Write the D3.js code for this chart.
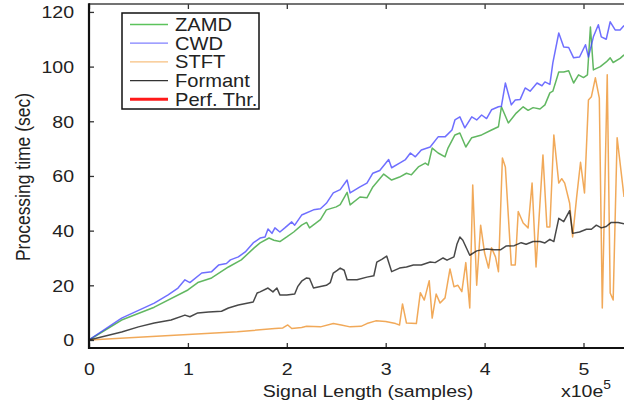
<!DOCTYPE html>
<html><head><meta charset="utf-8">
<script src="https://cdn.jsdelivr.net/npm/d3@7"></script>
<style>body{margin:0;background:#fff}svg{display:block}text{font-family:"Liberation Sans",Arial,sans-serif;fill:#222}</style>
</head><body><svg id="c" width="624" height="406"></svg>
<script>
// Data (x in units of 1e5 samples, y in seconds)
const xTicks = [0,1,2,3,4,5];
const yTicks = [0,20,40,60,80,100,120];
const seriesNames = ["ZAMD","CWD","STFT","Formant","Perf. Thr."];
const zamd = [[0,0],[0.33,7.3],[0.66,12],[1.0,18.3],[1.10,21],[1.24,22.7],[1.41,26.7],[1.54,29.3],[1.67,33.7],[1.73,35.5],[1.82,37.3],[1.87,36.5],[1.93,36],[2.0,37.7],[2.07,39.5],[2.15,42],[2.20,43],[2.23,41],[2.34,44],[2.40,47.6],[2.50,48.7],[2.54,49.5],[2.61,54],[2.64,49.4],[2.74,52.3],[2.81,52],[2.87,56],[2.98,60.7],[3.06,58.5],[3.14,59.6],[3.21,61],[3.26,60.4],[3.33,63.3],[3.40,64.7],[3.43,64],[3.47,70.2],[3.53,68.4],[3.60,67],[3.63,70.2],[3.70,75],[3.75,75.7],[3.81,70.6],[3.87,74],[3.97,75],[4.07,76.8],[4.14,78],[4.17,85.3],[4.24,79.4],[4.32,83],[4.39,85.3],[4.44,84],[4.49,85],[4.56,84.5],[4.61,86],[4.66,90.4],[4.69,91],[4.75,98],[4.80,98],[4.85,98.5],[4.90,94],[4.95,97],[5.00,96],[5.04,97],[5.07,114.5],[5.10,98.8],[5.17,100],[5.23,101.7],[5.27,103.2],[5.30,101.5],[5.37,103],[5.41,104.3]];
const cwd = [[0,0],[0.33,8],[0.66,13.5],[0.80,16.5],[0.90,19],[0.97,22],[1.02,21],[1.14,24.5],[1.24,25],[1.31,27.4],[1.39,28],[1.43,29.3],[1.51,30.4],[1.58,32.2],[1.66,35.5],[1.73,37.3],[1.78,37.7],[1.81,40.6],[1.85,39],[1.88,41],[1.93,39.5],[1.98,41],[2.05,43.2],[2.08,42],[2.15,45.7],[2.27,47.6],[2.34,48],[2.40,50],[2.47,53.8],[2.54,55],[2.61,58.5],[2.64,53.8],[2.74,56],[2.81,57.4],[2.87,61],[2.94,62],[3.03,66],[3.06,63],[3.14,64.7],[3.20,66],[3.25,68.4],[3.30,67],[3.36,69.5],[3.45,70.6],[3.53,74.3],[3.60,74.3],[3.67,76.8],[3.70,80.5],[3.75,81.6],[3.80,77.6],[3.87,81.6],[3.92,80.5],[3.97,82.3],[4.02,81],[4.07,84.2],[4.14,85.3],[4.17,85.5],[4.21,94],[4.27,86],[4.31,87.8],[4.36,88],[4.41,92.2],[4.46,91],[4.53,94],[4.58,93],[4.61,94.4],[4.66,93.5],[4.69,101.4],[4.75,112.3],[4.80,107.2],[4.85,107],[4.90,103.2],[4.96,103.5],[5.02,108],[5.05,103.5],[5.10,110.9],[5.15,115.3],[5.18,110.9],[5.23,110],[5.27,116.4],[5.32,113.4],[5.37,113.4],[5.41,115]];
const stft = [[0,0],[0.5,1.0],[1.0,2.0],[1.5,3.0],[1.88,4.2],[1.96,4.4],[2.01,5.5],[2.05,4.2],[2.15,4.6],[2.20,5.0],[2.34,4.8],[2.47,6.0],[2.55,5.5],[2.64,4.8],[2.75,5.0],[2.81,6.0],[2.90,7.0],[3.00,6.8],[3.10,6.0],[3.14,5.5],[3.17,13.2],[3.21,6.2],[3.31,6.0],[3.35,17.3],[3.39,14.6],[3.44,21.7],[3.47,8],[3.51,16.8],[3.55,13.5],[3.60,15.4],[3.65,26],[3.69,19.5],[3.73,20],[3.77,17.7],[3.81,28.3],[3.85,11.7],[3.88,56.7],[3.92,20],[3.96,42],[4.00,31.8],[4.04,26.3],[4.07,33.7],[4.11,30.4],[4.14,25],[4.18,66.6],[4.21,63.3],[4.27,27.4],[4.31,27.4],[4.34,47],[4.39,42.8],[4.44,41],[4.48,57.4],[4.52,26.7],[4.59,67.7],[4.63,41.3],[4.66,41.3],[4.70,75],[4.75,57.4],[4.78,59],[4.81,57.4],[4.86,50],[4.89,37.7],[4.93,52],[4.97,65],[5.01,53.8],[5.05,87.8],[5.08,89],[5.12,95.9],[5.16,88.5],[5.19,11.7],[5.24,97],[5.27,17.2],[5.30,14.6],[5.34,74],[5.41,52.3]];
const formant = [[0,0],[0.33,2.9],[0.50,4.8],[0.66,6.2],[0.83,7.3],[0.97,9.1],[1.02,8.5],[1.10,9.9],[1.21,10.2],[1.34,10.5],[1.41,11.7],[1.51,12.8],[1.66,13.9],[1.70,17.2],[1.73,17.6],[1.81,19],[1.86,17.6],[1.90,19],[1.93,16.5],[2.0,16.5],[2.08,16.8],[2.11,19.5],[2.15,21.5],[2.20,22.7],[2.23,22.5],[2.27,19],[2.40,20],[2.44,21],[2.47,24.5],[2.51,25.5],[2.54,26.3],[2.58,25.5],[2.61,22],[2.71,22],[2.81,23],[2.88,23.5],[2.91,28.5],[2.96,29.5],[3.01,30.7],[3.06,25],[3.14,26.3],[3.21,26.7],[3.28,27.4],[3.36,27.4],[3.45,28.5],[3.50,28.3],[3.58,30],[3.62,29.2],[3.69,30.4],[3.72,35],[3.75,37.7],[3.78,36.5],[3.85,31],[3.92,32.6],[4.02,33.3],[4.10,33],[4.16,33],[4.22,34.4],[4.30,34.5],[4.37,35.6],[4.42,35],[4.49,36],[4.56,36],[4.61,35.5],[4.66,36.8],[4.70,36],[4.75,44.5],[4.80,43.3],[4.86,47.3],[4.89,39],[4.96,39.5],[5.03,40.5],[5.08,40.5],[5.13,42],[5.18,41],[5.23,41.5],[5.28,43],[5.35,43],[5.41,42.5]];
const perfThr = [];

const S = 1.15; // horizontal glyph stretch seen in the reference
const svg = d3.select("#c");
const x = d3.scaleLinear().domain([0,5.5]).range([89, 89+5.5*98.9]);
const y = d3.scaleLinear().domain([-2.93,122.9]).range([348,4]);

svg.append("defs").append("clipPath").attr("id","clip")
  .append("rect").attr("x",89).attr("y",4).attr("width",624-89).attr("height",344);

const line = d3.line().x(d=>x(d[0])).y(d=>y(d[1]));
const plot = svg.append("g").attr("clip-path","url(#clip)");
const styles = [
  {data:zamd, color:"#3aa53a", op:0.8},
  {data:cwd, color:"#3f3fff", op:0.75},
  {data:stft, color:"#ee9430", op:0.8},
  {data:formant, color:"#1a1a1a", op:0.8},
  {data:perfThr, color:"#ff0000", op:1}
];
styles.forEach(s=>{
  if(!s.data.length) return;
  plot.append("path").datum(s.data).attr("d",line).attr("fill","none")
    .attr("stroke",s.color).attr("stroke-opacity",s.op).attr("stroke-width",1.5)
    .attr("stroke-linejoin","round");
});

// axes
const gx = svg.append("g").attr("transform","translate(0,348)")
  .call(d3.axisBottom(x).tickValues(xTicks).tickFormat(d3.format("d")).tickSize(-5).tickSizeOuter(0).tickPadding(15));
gx.selectAll("text").attr("font-size",17).attr("transform",`scale(${S},1)`).style("fill","#222");
const gy = svg.append("g").attr("transform","translate(89,0)")
  .call(d3.axisLeft(y).tickValues(yTicks).tickFormat(d3.format("d")).tickSize(-5).tickSizeOuter(0).tickPadding(15));
gy.selectAll("text").attr("font-size",17).attr("x",-15/S).attr("dy","0.34em").attr("transform",`scale(${S},1)`).style("fill","#222");
const gt = svg.append("g").attr("transform","translate(0,4)")
  .call(d3.axisTop(x).tickValues(xTicks).tickSize(-5).tickSizeOuter(0).tickFormat(""));
[gx,gy,gt].forEach(g=>{g.selectAll(".tick line").attr("stroke","#333").attr("stroke-width",1.3);
  g.select(".domain").remove();});
svg.append("line").attr("x1",89).attr("x2",624).attr("y1",4).attr("y2",4).attr("stroke","#444").attr("stroke-width",1.6);
svg.append("line").attr("x1",89).attr("x2",624).attr("y1",348).attr("y2",348).attr("stroke","#111").attr("stroke-width",2.2);
svg.append("line").attr("x1",89).attr("x2",89).attr("y1",3.2).attr("y2",349.1).attr("stroke","#111").attr("stroke-width",2.2);

// axis titles
svg.append("text").attr("transform",`translate(368,397) scale(${S},1)`).attr("text-anchor","middle")
  .attr("font-size",17).text("Signal Length (samples)");
const xe = svg.append("text").attr("transform",`translate(561,397) scale(${S},1)`).attr("font-size",17);
xe.append("tspan").text("x10e");
xe.append("tspan").attr("font-size",12).attr("dy",-8).text("5");
svg.append("text").attr("transform",`translate(29.5,177) scale(${S},1) rotate(-90)`).attr("text-anchor","middle")
  .attr("font-size",17.5).text("Processing time (sec)");

// legend
const lg = svg.append("g");
lg.append("rect").attr("x",122).attr("y",13).attr("width",137).attr("height",96)
  .attr("fill","#fff").attr("stroke","#111").attr("stroke-width",1.5);
const legColors = ["#5cc35c","#8080ff","#f7c080","#333","#ff1a1a"];
const legW = [1.3,1.3,1.3,1.3,3];
seriesNames.forEach((n,i)=>{
  const ry = 24.5 + i*18.7;
  lg.append("line").attr("x1",130).attr("x2",168).attr("y1",ry).attr("y2",ry)
    .attr("stroke",legColors[i]).attr("stroke-width",legW[i]);
  lg.append("text").attr("transform",`translate(175,${ry+6.3}) scale(${S},1)`)
    .attr("font-size",17.5).text(n);
});
</script></body></html>
